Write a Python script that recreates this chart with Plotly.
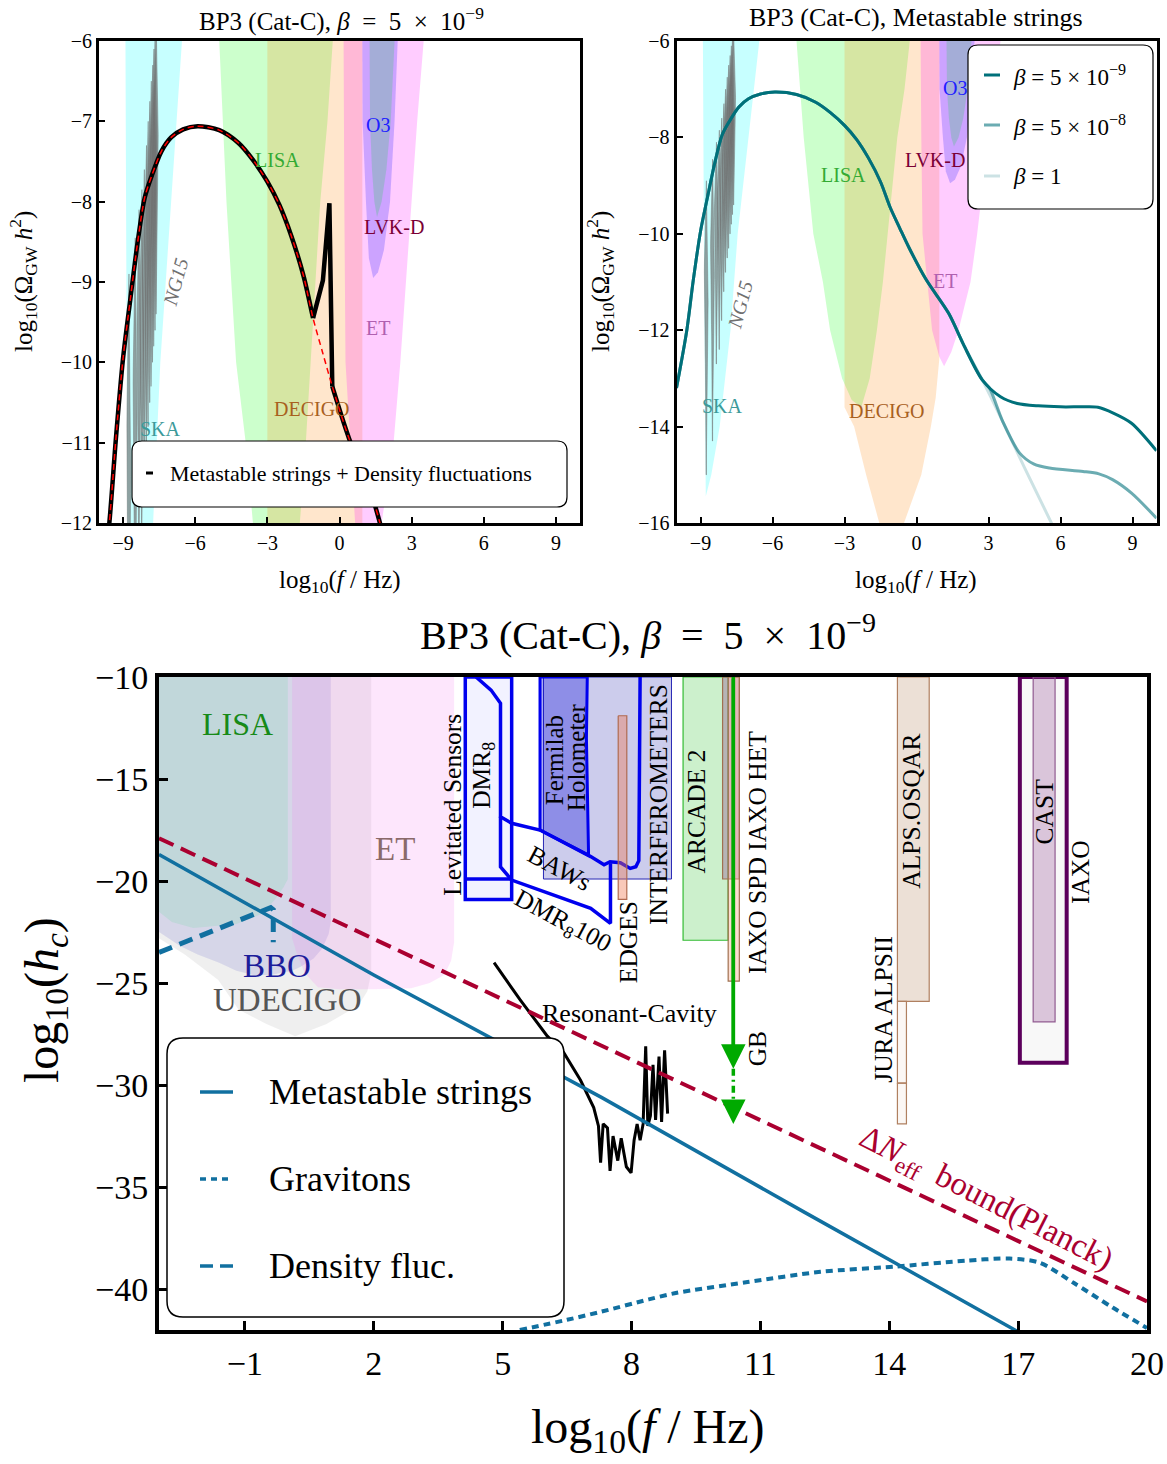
import numpy as np
import plotly.graph_objects as go

W, H = 1167, 1464
FONT = "Liberation Serif"

# ------------------------------------------------------------------
# Top panels: detector sensitivity regions in (log10 f/Hz, log10 Omega h^2)
# ------------------------------------------------------------------
ska_x = [-8.90, -6.55, -7.00, -7.45, -7.75, -8.20, -8.55, -8.78, -8.85]
ska_y = [-6.0, -6.0, -8.0, -10.0, -12.0, -14.0, -15.0, -15.45, -11.0]

lisa_x = [-5.0, -0.28, -0.5, -0.8, -1.0, -1.2, -1.4, -1.65, -1.95, -2.3, -2.7, -3.1, -3.6, -3.9, -4.3, -4.7]
lisa_y = [-6.0, -6.0, -7.0, -8.0, -9.0, -10.0, -11.0, -12.0, -13.0, -13.6, -13.45, -13.0, -12.0, -11.0, -10.0, -8.0]

decigo_x = [-3.0, 0.95, 0.95, 0.8, 0.6, 0.2, -0.52, -1.0, -1.55, -2.1, -2.6, -3.0]
decigo_y = [-6.0, -6.0, -12.6, -13.4, -14.0, -15.0, -16.0, -16.6, -16.0, -15.0, -14.0, -13.6]

et_x = [0.17, 3.5, 3.23, 3.0, 2.76, 2.53, 2.25, 1.75, 1.45, 1.15, 0.95, 0.65, 0.45, 0.25, 0.2]
et_y = [-6.0, -6.0, -7.0, -8.0, -9.0, -10.0, -11.0, -12.0, -12.45, -12.75, -12.55, -12.0, -11.0, -10.0, -8.0]

lvkd_x = [0.95, 2.42, 2.29, 2.1, 1.85, 1.6, 1.4, 1.22, 1.1, 0.96]
lvkd_y = [-6.0, -6.0, -7.0, -8.0, -8.6, -8.88, -8.95, -8.7, -8.0, -7.0]

o3_x = [1.25, 2.29, 2.13, 1.95, 1.75, 1.56, 1.45, 1.35, 1.27]
o3_y = [-6.0, -6.0, -7.0, -7.6, -8.0, -8.19, -8.0, -7.6, -7.0]

# NANOGrav 15-yr violins: frequency bin, lower and upper extent
ng15_logf = [-8.76, -8.50, -8.34, -8.22, -8.12, -8.03, -7.96, -7.89, -7.83, -7.77, -7.72, -7.67, -7.62]
ng15_lo = [-15.0, -14.3, -12.7, -12.4, -11.8, -11.2, -10.8, -10.5, -10.3, -10.0, -9.8, -9.6, -9.4]
ng15_hi = [-8.9, -8.45, -8.1, -7.85, -7.6, -7.3, -7.0, -6.75, -6.5, -6.3, -6.1, -5.9, -5.8]

# Metastable cosmic-string spectra (log10 Omega h^2)
ms9_x = [-10.0, -9.57, -9.3, -9.0, -8.7, -8.4, -8.1, -7.8, -7.4, -7.0, -6.5, -5.9, -5.0, -4.2,
         -3.6, -3.0, -2.5, -2.0, -1.5, -1.1, -0.7, -0.3, 0.4, 1.34, 1.96, 2.74, 3.5, 4.2, 5.07,
         6.0, 7.0, 7.56, 8.2, 8.96, 10.0]
ms9_y = [-13.2, -12.0, -10.96, -9.95, -9.22, -8.52, -7.95, -7.67, -7.37, -7.2, -7.1, -7.06, -7.11,
         -7.27, -7.48, -7.75, -8.04, -8.43, -8.92, -9.45, -9.88, -10.3, -10.95, -11.65, -12.3, -13.03,
         -13.38, -13.52, -13.57, -13.59, -13.59, -13.6, -13.72, -13.93, -14.5]

ms8_x = [-10.0, -9.57, -9.3, -9.0, -8.7, -8.4, -8.1, -7.8, -7.4, -7.0, -6.5, -5.9, -5.0, -4.2,
         -3.6, -3.0, -2.5, -2.0, -1.5, -1.1, -0.7, -0.3, 0.4, 1.34, 1.96, 2.74, 3.04, 3.6, 4.3,
         4.9, 5.54, 6.94, 7.6, 8.17, 8.96, 10.0]
ms8_y = [-13.2, -12.0, -10.96, -9.95, -9.22, -8.52, -7.95, -7.67, -7.37, -7.2, -7.1, -7.06, -7.11,
         -7.27, -7.48, -7.75, -8.04, -8.43, -8.92, -9.45, -9.88, -10.3, -10.95, -11.65, -12.3, -13.03,
         -13.2, -13.9, -14.55, -14.78, -14.86, -14.93, -14.98, -15.1, -15.38, -15.9]

ms1_x = [-10.0, -9.57, -9.3, -9.0, -8.7, -8.4, -8.1, -7.8, -7.4, -7.0, -6.5, -5.9, -5.0, -4.2,
         -3.6, -3.0, -2.5, -2.0, -1.5, -1.1, -0.7, -0.3, 0.4, 1.34, 1.96, 2.74, 3.5, 4.5, 5.7]
ms1_y = [-13.2, -12.0, -10.96, -9.95, -9.22, -8.52, -7.95, -7.67, -7.37, -7.2, -7.1, -7.06, -7.11,
         -7.27, -7.48, -7.75, -8.04, -8.43, -8.92, -9.45, -9.88, -10.3, -10.95, -11.65, -12.3, -13.03,
         -13.8, -14.85, -16.08]

# Density-fluctuation bump added on top of the string spectrum
spike_x = [-1.1, -0.84, -0.69, -0.42, -0.36, -0.3]
spike_y = [-9.45, -9.18, -8.98, -8.02, -9.1, -10.3]

# ------------------------------------------------------------------
# Bottom panel: log10 h_c versus log10 f/Hz
# ------------------------------------------------------------------
udecigo_x = [-3.0, 1.94, 1.94, 1.85, 1.7, 1.48, 0.9, 0.17, -0.5, -1.15, -1.62, -2.4, -3.0]
udecigo_y = [-10.0, -10.0, -24.5, -25.4, -25.9, -26.3, -27.0, -27.6, -27.0, -26.3, -24.85, -23.6, -22.8]

bbo_x = [-3.0, 1.0, 1.0, 0.95, 0.8, 0.6, 0.3, 0.1, -0.4, -0.8, -1.2, -1.6, -2.1, -2.5, -3.0]
bbo_y = [-10.0, -10.0, -22.0, -22.6, -23.3, -23.8, -24.2, -24.4, -24.6, -24.6, -24.4, -24.0, -23.6, -23.2, -22.5]

lisa_b_x = [-3.0, 0.0, 0.0, -0.1, -0.3, -0.6, -1.2, -2.2, -2.7, -3.0]
lisa_b_y = [-10.0, -10.0, -19.9, -20.3, -20.9, -21.6, -22.1, -22.3, -22.0, -21.5]

et_b_x = [0.1, 3.87, 3.87, 3.8, 3.64, 3.3, 2.87, 2.0, 1.2, 0.7, 0.39, 0.2, 0.1]
et_b_y = [-10.0, -10.0, -23.0, -23.9, -24.6, -25.0, -25.25, -25.3, -25.3, -25.2, -24.5, -23.5, -22.8]

# boxes: [x0, x1, y0, y1]
dmr8_box = [4.13, 5.21, -20.9, -10.0]
dmr8_split = -19.9
interf_box = [5.95, 8.93, -19.9, -10.0]
edges_box = [7.69, 7.89, -20.9, -11.9]
arcade_box = [9.2, 10.25, -22.9, -10.0]
iaxo_spd_box = [10.12, 10.51, -19.9, -10.0]
iaxo_het_box = [10.25, 10.51, -24.9, -10.0]
alps_osqar_box = [14.19, 14.93, -25.9, -10.0]
jura_box_a = [14.19, 14.40, -29.9, -25.9]
jura_box_b = [14.19, 14.40, -31.9, -29.9]
iaxo_box = [17.04, 18.13, -28.9, -10.0]
cast_box = [17.35, 17.86, -26.9, -10.0]

holo_x = [5.87, 6.97, 6.95, 6.98, 7.0, 5.87]
holo_y = [-10.0, -10.0, -13.0, -16.0, -18.73, -17.5]

baws_x = [4.38, 4.73, 4.95, 4.95, 5.21, 5.87, 7.05, 7.36, 7.50, 7.74, 7.97, 8.10, 8.17, 8.20]
baws_y = [-10.0, -10.64, -11.29, -16.85, -17.17, -17.5, -18.8, -19.2, -19.05, -19.1, -19.38, -19.3, -19.0, -10.0]

dmr100_x = [4.95, 4.95, 5.21, 5.87, 7.05, 7.51, 7.51]
dmr100_y = [-16.85, -19.3, -19.95, -20.44, -21.34, -22.07, -19.13]

gb_logf = 10.37
gb_solid_end = -29.2
gb_tip = -31.9

cavity_x = [4.80, 5.40, 6.04, 6.42, 6.81, 7.12, 7.23, 7.28, 7.34, 7.44, 7.50, 7.57, 7.68, 7.76,
            7.88, 7.99, 8.06, 8.13, 8.20, 8.27, 8.33, 8.38, 8.44, 8.50, 8.56, 8.64, 8.70, 8.77, 8.84]
cavity_y = [-24.0, -25.8, -27.6, -28.4, -29.75, -31.1, -32.0, -33.8, -31.9, -32.1, -34.2, -32.5,
            -33.7, -32.6, -34.0, -34.3, -32.7, -31.9, -32.7, -31.9, -28.1, -32.0, -31.5, -29.0,
            -31.7, -28.6, -31.8, -28.3, -31.4]

planck_x = [-3.0, 20.0]
planck_y = [-17.9, -40.6]

strings_hc_x = [-3.0, 2.0, 7.3, 12.0, 16.8, 20.0]
strings_hc_y = [-18.7, -24.6, -30.6, -36.2, -41.85, -45.6]

graviton_x = [5.4, 6.5, 7.3, 8.4, 9.0, 10.7, 12.4, 14.1, 15.8, 16.8, 17.5, 18.3, 19.2, 20.0]
graviton_y = [-42.0, -41.5, -41.1, -40.5, -40.2, -39.65, -39.15, -38.9, -38.6, -38.5, -38.7, -39.7, -40.9, -41.9]

density_x = [-3.0, -0.4, -0.34, -0.34]
density_y = [-23.5, -21.3, -21.4, -23.0]

# ------------------------------------------------------------------
BLUE = "#1170a0"
TEAL = "0,112,122"


def px(x):
    return x / W


def py(y):
    return 1 - y / H


def poly(xs, ys, fill, xa, ya, line=None):
    return go.Scatter(x=list(xs) + [xs[0]], y=list(ys) + [ys[0]], mode="lines", fill="toself",
                      fillcolor=fill, line=line or dict(width=0), xaxis=xa, yaxis=ya,
                      hoverinfo="skip", showlegend=False)


def box(b, fill, edge, width, xa="x3", ya="y3"):
    x0, x1, y0, y1 = b
    return poly([x0, x1, x1, x0], [y1, y1, y0, y0], fill, xa, ya, dict(color=edge, width=width))


def curve(xs, ys, color, width, xa, ya, dash=None, shape="spline"):
    return go.Scatter(x=xs, y=ys, mode="lines", line=dict(color=color, width=width, dash=dash,
                      shape=shape, smoothing=0.8 if shape == "spline" else None),
                      xaxis=xa, yaxis=ya, hoverinfo="skip", showlegend=False)


fig = go.Figure()

# ---------------- top panels: regions ----------------
for xa, ya in (("x", "y"), ("x2", "y2")):
    fig.add_trace(poly(ska_x, ska_y, "rgba(0,255,255,0.22)", xa, ya))
    for xc, lo, hi in zip(ng15_logf, ng15_lo, ng15_hi):
        t = np.linspace(0, 1, 30)
        yy = lo + (hi - lo) * t
        hw = 0.075 * np.sin(np.pi * t ** 1.6) ** 2 + 0.006
        fig.add_trace(poly(np.concatenate([xc - hw, (xc + hw)[::-1]]),
                           np.concatenate([yy, yy[::-1]]),
                           "rgba(110,110,110,0.65)", xa, ya,
                           dict(color="rgba(110,110,110,0.75)", width=0.6)))
    fig.add_trace(poly(lisa_x, lisa_y, "rgba(0,255,0,0.2)", xa, ya))
    fig.add_trace(poly(decigo_x, decigo_y, "rgba(255,128,0,0.2)", xa, ya))
    fig.add_trace(poly(et_x, et_y, "rgba(255,0,255,0.2)", xa, ya))
    fig.add_trace(poly(lvkd_x, lvkd_y, "rgba(0,0,255,0.2)", xa, ya))
    fig.add_trace(poly(o3_x, o3_y, "rgba(60,200,110,0.28)", xa, ya))

# top-left: strings + density fluctuations
rise = [(a, b) for a, b in zip(ms9_x, ms9_y) if a <= spike_x[0]]
tail = [(a, b) for a, b in zip(ms9_x, ms9_y) if a >= spike_x[-1]]
fig.add_trace(curve([p[0] for p in rise], [p[1] for p in rise], "black", 4.5, "x", "y"))
fig.add_trace(curve(spike_x, spike_y, "black", 4.5, "x", "y", shape="linear"))
fig.add_trace(curve([p[0] for p in tail], [p[1] for p in tail], "black", 4.5, "x", "y"))
fig.add_trace(curve(ms9_x, ms9_y, "red", 1.5, "x", "y", dash="6px,4px"))

# top-right: three values of beta
fig.add_trace(curve(ms1_x, ms1_y, f"rgba({TEAL},0.2)", 3, "x2", "y2"))
fig.add_trace(curve(ms8_x, ms8_y, f"rgba({TEAL},0.58)", 3, "x2", "y2"))
fig.add_trace(curve(ms9_x, ms9_y, f"rgb({TEAL})", 3, "x2", "y2"))

# ---------------- bottom panel ----------------
fig.add_trace(poly(udecigo_x, udecigo_y, "rgba(128,128,128,0.13)", "x3", "y3"))
fig.add_trace(poly(bbo_x, bbo_y, "rgba(0,0,180,0.1)", "x3", "y3"))
fig.add_trace(poly(lisa_b_x, lisa_b_y, "rgba(40,220,120,0.12)", "x3", "y3"))
fig.add_trace(poly(et_b_x, et_b_y, "rgba(245,130,240,0.2)", "x3", "y3"))

fig.add_trace(box(dmr8_box, "rgba(0,0,255,0.05)", "#0000ee", 3.5))
fig.add_trace(curve([dmr8_box[0], dmr8_box[1]], [dmr8_split, dmr8_split], "#0000ee", 3.5, "x3", "y3", shape="linear"))
fig.add_trace(box(interf_box, "rgba(0,0,160,0.2)", "#2828b4", 1))
fig.add_trace(poly(holo_x, holo_y, "rgba(0,0,220,0.3)", "x3", "y3", dict(color="#0000ee", width=3)))
fig.add_trace(curve(baws_x, baws_y, "#0000ee", 3.5, "x3", "y3", shape="linear"))
fig.add_trace(curve(dmr100_x, dmr100_y, "#0000ee", 3.5, "x3", "y3", shape="linear"))
fig.add_trace(box(edges_box, "rgba(240,120,80,0.4)", "#b06a50", 1.2))
fig.add_trace(box(arcade_box, "rgba(0,180,0,0.2)", "#33bb33", 1.2))
fig.add_trace(box(iaxo_spd_box, "rgba(150,90,150,0.4)", "#a07050", 1.2))
fig.add_trace(box(iaxo_het_box, "rgba(250,170,140,0.4)", "#a07050", 1.2))
fig.add_trace(box(alps_osqar_box, "rgba(180,130,90,0.25)", "#b08060", 1.2))
fig.add_trace(box(jura_box_a, "rgba(230,200,180,0.15)", "#b08060", 1.2))
fig.add_trace(box(jura_box_b, "rgba(230,200,180,0.15)", "#b08060", 1.2))
fig.add_trace(box(iaxo_box, "rgba(220,220,220,0.2)", "#5c005c", 4))
fig.add_trace(box(cast_box, "rgba(150,80,150,0.3)", "#905a90", 1.2))

fig.add_trace(curve([gb_logf, gb_logf], [-10.0, gb_solid_end + 0.6], "#00aa00", 3.5, "x3", "y3", shape="linear"))
fig.add_trace(curve([gb_logf, gb_logf], [gb_solid_end, gb_tip + 1.0], "#00aa00", 3.5, "x3", "y3",
                    dash="7px,4px,2px,4px", shape="linear"))

fig.add_trace(curve(cavity_x, cavity_y, "black", 3, "x3", "y3", shape="linear"))
fig.add_trace(curve(planck_x, planck_y, "#aa0030", 4, "x3", "y3", dash="16px,8px", shape="linear"))
fig.add_trace(curve(strings_hc_x, strings_hc_y, BLUE, 3.5, "x3", "y3", shape="linear"))
fig.add_trace(curve(graviton_x, graviton_y, BLUE, 4, "x3", "y3", dash="7px,5px"))
fig.add_trace(curve(density_x, density_y, BLUE, 5, "x3", "y3", dash="14px,8px", shape="linear"))

# ---------------- annotations ----------------
ann = []


def label(x, y, text, size, color="black", xref="x3", yref="y3", angle=0, **kw):
    ann.append(dict(x=x, y=y, xref=xref, yref=yref, text=text, showarrow=False, textangle=angle,
                    font=dict(family=FONT, size=size, color=color), xanchor="center",
                    yanchor="middle", **kw))


def plabel(x, y, text, size, color="black", angle=0, xanchor="center", yanchor="middle"):
    ann.append(dict(x=px(x), y=py(y), xref="paper", yref="paper", text=text, showarrow=False,
                    textangle=angle, font=dict(family=FONT, size=size, color=color),
                    xanchor=xanchor, yanchor=yanchor))


beta9 = "<i>β</i> = 5 × 10<sup>−9</sup>"
beta9_wide = "<i>β</i>  =  5  ×  10<sup>−9</sup>"
plabel(341, 1, "BP3 (Cat-C), " + beta9_wide, 25, yanchor="top")
plabel(916, 1, "BP3 (Cat-C), Metastable strings", 26, yanchor="top")
plabel(648, 632, "BP3 (Cat-C), " + beta9_wide, 40)

omega_title = "log<sub>10</sub>(Ω<sub>GW</sub> <i>h</i><sup>2</sup>)"
f_title_small = "log<sub>10</sub>(<i>f</i> / Hz)"
plabel(23, 282, omega_title, 25, angle=-90)
plabel(600, 282, omega_title, 25, angle=-90)
plabel(340, 582, f_title_small, 25)
plabel(916, 582, f_title_small, 25)
plabel(648, 1430, "log<sub>10</sub>(<i>f</i> / Hz)", 48)
plabel(45, 1000, "log<sub>10</sub>(<i>h<sub>c</sub></i>)", 48, angle=-90)

for xr, yr, pos in (("x", "y", dict(LISA=(-2.58, -7.48), O3=(1.62, -7.05), LVKD=(2.25, -8.32),
                                      ET=(1.62, -9.57), DECIGO=(-1.16, -10.58), SKA=(-7.44, -10.83),
                                      NG=(-6.82, -9.0))),
                    ("x2", "y2", dict(LISA=(-3.06, -8.78), O3=(1.6, -6.98), LVKD=(0.77, -8.47),
                                        ET=(1.19, -10.98), DECIGO=(-1.23, -13.68), SKA=(-8.1, -13.57),
                                        NG=(-7.35, -11.48)))):
    label(*pos["LISA"], "LISA", 20, "#33aa33", xr, yr)
    label(*pos["O3"], "O3", 20, "#2020ff", xr, yr)
    label(*pos["LVKD"], "LVK-D", 20, "#7a0035", xr, yr)
    label(*pos["ET"], "ET", 20, "#b060b0", xr, yr)
    label(*pos["DECIGO"], "DECIGO", 20, "#a8601e", xr, yr)
    label(*pos["SKA"], "SKA", 20, "#3c9a9a", xr, yr)
    label(*pos["NG"], "<i>NG15</i>", 20, "#707070", xr, yr, angle=-75)

# bottom panel labels
label(-1.18, -12.3, "LISA", 32, "#178a17")
label(2.49, -18.43, "ET", 33, "#8a6a6a")
label(-0.25, -24.15, "BBO", 33, "#1c1c9a")
label(-0.02, -25.85, "UDECIGO", 33, "#555555")
label(3.84, -16.27, "Levitated Sensors", 25.5, angle=-90)
label(4.54, -14.8, "DMR<sub>8</sub>", 25.5, angle=-90)
label(6.2, -14.07, "Fermilab", 25, angle=-90)
label(6.72, -13.95, "Holometer", 25, angle=-90)
label(6.33, -19.36, "BAWs", 25.5, angle=28)
label(6.40, -22.0, "DMR<sub>8</sub>100", 25.5, angle=28)
label(7.92, -22.99, "EDGES", 25.5, angle=-90)
label(8.64, -16.27, "INTERFEROMETERS", 25.5, angle=-90)
label(9.52, -16.6, "ARCADE 2", 25.5, angle=-90)
label(10.92, -18.58, "IAXO SPD IAXO HET", 25.5, angle=-90)
label(10.92, -28.2, "GB", 25.5, angle=-90)
label(13.88, -26.3, "JURA ALPSII", 25.5, angle=-90)
label(14.53, -16.6, "ALPS.OSQAR", 25.5, angle=-90)
label(17.62, -16.6, "CAST", 25.5, angle=-90)
label(18.44, -19.56, "IAXO", 25.5, angle=-90)
label(7.96, -26.47, "Resonant-Cavity", 26)
label(16.23, -35.6, "Δ<i>N</i><sub>eff</sub>  bound(Planck)", 33, "#aa0030", angle=27)

# GB arrow heads
for tail_y, tip_y in ((-10.0, gb_solid_end), (gb_tip + 1.1, gb_tip)):
    ann.append(dict(x=gb_logf, y=tip_y, ax=gb_logf, ay=tail_y, xref="x3", yref="y3", axref="x3",
                    ayref="y3", text="", showarrow=True, arrowhead=2, arrowsize=1.4,
                    arrowwidth=3.5, arrowcolor="#00aa00"))

# ---------------- legends (drawn boxes) ----------------
shapes = []


def rrect(x0, y0, x1, y1, r, lw=1.2):
    p = (f"M {px(x0 + r)},{py(y0)} L {px(x1 - r)},{py(y0)} Q {px(x1)},{py(y0)} {px(x1)},{py(y0 + r)} "
         f"L {px(x1)},{py(y1 - r)} Q {px(x1)},{py(y1)} {px(x1 - r)},{py(y1)} "
         f"L {px(x0 + r)},{py(y1)} Q {px(x0)},{py(y1)} {px(x0)},{py(y1 - r)} "
         f"L {px(x0)},{py(y0 + r)} Q {px(x0)},{py(y0)} {px(x0 + r)},{py(y0)} Z")
    shapes.append(dict(type="path", path=p, xref="paper", yref="paper", fillcolor="white",
                       line=dict(color="black", width=lw), layer="above"))


def sample(x0, x1, y, color, width, dash="solid"):
    shapes.append(dict(type="line", x0=px(x0), x1=px(x1), y0=py(y), y1=py(y), xref="paper",
                       yref="paper", line=dict(color=color, width=width, dash=dash), layer="above"))


rrect(132, 441, 567, 507, 10)
sample(146, 153, 473, "black", 3)
plabel(168, 473, "Metastable strings + Density fluctuations", 22, xanchor="left")

rrect(968, 45, 1153, 209, 10)
for yy, txt, a in ((75, beta9, 1.0), (125, "<i>β</i> = 5 × 10<sup>−8</sup>", 0.58), (176, "<i>β</i> = 1", 0.2)):
    sample(984, 1000, yy, f"rgba({TEAL},{a})", 3)
    plabel(1011, yy, txt, 23, xanchor="left")

rrect(167, 1038, 564, 1317, 16, 1.5)
sample(200, 233, 1092, BLUE, 3.5)
sample(200, 233, 1179, BLUE, 3.5, "6px,5px")
sample(200, 233, 1266, BLUE, 3.5, "13px,7px")
plabel(267, 1092, "Metastable strings", 36, xanchor="left")
plabel(267, 1179, "Gravitons", 36, xanchor="left")
plabel(267, 1266, "Density fluc.", 36, xanchor="left")

# ---------------- axes ----------------
def axis(domain, rng, tickvals, size, lw, tl, tw, anchor):
    return dict(domain=domain, range=rng, tickvals=tickvals, showline=True, linecolor="black",
                linewidth=lw, mirror=True, ticks="inside", ticklen=tl, tickwidth=tw,
                tickcolor="black", showgrid=False, zeroline=False, anchor=anchor,
                tickfont=dict(family=FONT, size=size, color="black"), fixedrange=True)


top_dom = [py(523), py(41)]
fig.update_layout(
    width=W, height=H, margin=dict(l=0, r=0, t=0, b=0, pad=0, autoexpand=False), autosize=False,
    paper_bgcolor="white", plot_bgcolor="white", showlegend=False,
    font=dict(family=FONT, color="black"),
    xaxis=axis([px(99), px(580)], [-10, 10], [-9, -6, -3, 0, 3, 6, 9], 20, 3, 6, 2, "y"),
    yaxis=axis(top_dom, [-12, -6], [-12, -11, -10, -9, -8, -7, -6], 20, 3, 6, 2, "x"),
    xaxis2=axis([px(676.5), px(1156.5)], [-10, 10], [-9, -6, -3, 0, 3, 6, 9], 20, 3, 6, 2, "y2"),
    yaxis2=axis(top_dom, [-16, -6], [-16, -14, -12, -10, -8, -6], 20, 3, 6, 2, "x2"),
    xaxis3=axis([px(159), px(1147)], [-3, 20], [-1, 2, 5, 8, 11, 14, 17, 20], 34, 4, 9, 3, "y3"),
    yaxis3=axis([py(1330), py(677)], [-42, -10], [-40, -35, -30, -25, -20, -15, -10], 34, 4, 9, 3, "x3"),
    annotations=ann, shapes=shapes,
)

fig.write_html("out.html", config={"displayModeBar": False})
